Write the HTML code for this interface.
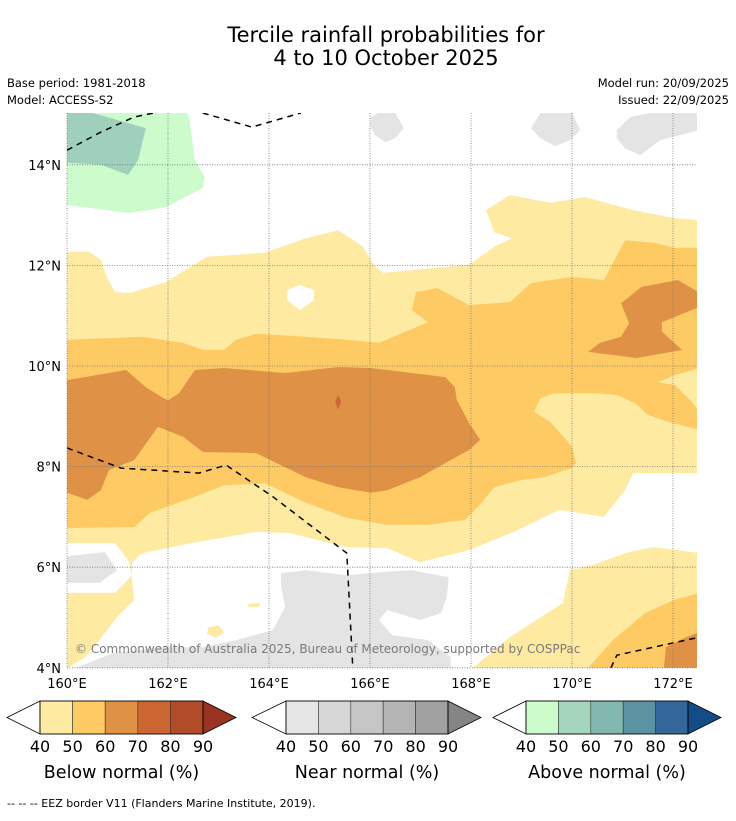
<!DOCTYPE html>
<html><head><meta charset="utf-8">
<style>
html,body{margin:0;padding:0;background:#fff;}
body{width:736px;height:816px;position:relative;overflow:hidden;font-family:"Liberation Sans","DejaVu Sans",sans-serif;color:#000;}
svg text{font-family:"DejaVu Sans","Liberation Sans",sans-serif;}
</style></head>
<body>
<svg id="root" width="736" height="816" viewBox="0 0 736 816">
  <text x="386" y="42" font-size="21" text-anchor="middle">Tercile rainfall probabilities for</text>
  <text x="386" y="65" font-size="21" text-anchor="middle">4 to 10 October 2025</text>
  <text x="7" y="87" font-size="11.5">Base period: 1981-2018</text>
  <text x="7" y="104" font-size="11.5">Model: ACCESS-S2</text>
  <text x="729" y="87" font-size="11.5" text-anchor="end">Model run: 20/09/2025</text>
  <text x="729" y="104" font-size="11.5" text-anchor="end">Issued: 22/09/2025</text>
  <defs><clipPath id="mapclip"><rect x="67" y="113" width="630" height="555"/></clipPath></defs>
  <g id="map" clip-path="url(#mapclip)"></g>
  <g id="grid"></g>
  <g id="axes"></g>
  <text x="75" y="653" font-size="12" fill="#7a7a7a">© Commonwealth of Australia 2025, Bureau of Meteorology, supported by COSPPac</text>
  <g id="cbars"></g>
  <text x="7" y="807" font-size="11">--  --  -- EEZ border V11 (Flanders Marine Institute, 2019).</text>
</svg>
<script>
// ---- axis data ----
const lonTicks = [160,162,164,166,168,170,172];
const latTicks = [4,6,8,10,12,14];
const cbTicks = [40,50,60,70,80,90];
const belowColors = ["#feeaa0","#fdca64","#df9245","#cc6633","#b24c28"];
const nearColors = ["#e6e6e6","#d7d7d7","#c6c6c6","#b4b4b4","#a1a1a1"];
const aboveColors = ["#ccfccc","#a4d6bd","#83b8b0","#5b93a2","#336699"];
const cbTitles = ["Below normal (%)","Near normal (%)","Above normal (%)"];

// ---- contour regions (lon, lat) ----
const green40 = [[160,15.03],[162.38,15.03],[162.42,14.95],[162.53,14.10],[162.73,13.74],[162.69,13.54],[161.96,13.16],[161.25,13.04],[160,13.20]];
const green50 = [[160,15.03],[160.51,15.03],[161.56,14.73],[161.41,14.10],[161.21,13.80],[160.67,14.00],[160,14.04]];
const grey1 = [[166.02,14.95],[166.16,15.03],[166.50,15.03],[166.67,14.73],[166.50,14.53],[166.30,14.45],[166.10,14.59],[166.00,14.79]];
const grey2 = [[169.19,14.73],[169.37,15.03],[170.0,15.03],[170.16,14.69],[169.96,14.49],[169.66,14.37],[169.37,14.53]];
const grey3 = [[170.89,14.69],[171.15,14.95],[171.54,15.03],[172.5,15.03],[172.5,14.69],[172.14,14.59],[171.74,14.49],[171.35,14.19],[171.05,14.33],[170.89,14.53]];
const below40 = [[160,12.27],[160.44,12.27],[160.67,12.11],[160.79,11.77],[160.95,11.47],[161.25,11.45],[161.96,11.67],[162.77,12.17],[163.92,12.25],[164.73,12.54],[165.37,12.70],[165.86,12.37],[166.10,11.97],[166.26,11.85],[167.96,12.01],[168.46,12.37],[168.81,12.54],[168.46,12.66],[168.30,13.10],[168.77,13.40],[169.58,13.24],[170.24,13.36],[171.21,13.10],[172.02,12.94],[172.53,12.90],[172.53,7.87],[171.21,7.87],[171.05,7.53],[170.63,7.00],[169.74,7.14],[168.93,6.74],[167.96,6.34],[166.99,6.10],[166.34,6.38],[165.54,6.40],[164.40,6.68],[163.74,6.70],[162.46,6.48],[161.49,6.28],[161.29,6.10],[161.29,5.75],[161.33,5.35],[160.99,5.01],[160.75,4.69],[160.36,4.21],[160.02,4.00],[160,4.00]];
const holeWhite = [[164.36,11.51],[164.61,11.61],[164.89,11.51],[164.89,11.31],[164.61,11.11],[164.36,11.31]];
const leftWhite = [[160,6.48],[160.95,6.48],[161.21,6.14],[161.29,5.84],[160.95,5.49],[160,5.49]];
const leftGrey = [[160,6.22],[160.75,6.30],[160.99,5.94],[160.65,5.69],[160,5.69]];
const below40SE = [[168.04,4],[168.77,4.61],[169.82,5.29],[169.96,5.94],[170.40,6.04],[171.05,6.28],[171.62,6.40],[172.53,6.28],[172.53,4]];
const below40b1 = [[163.58,5.27],[163.82,5.29],[163.80,5.21],[163.60,5.21]];
const below40b2 = [[162.80,4.80],[163.0,4.85],[163.11,4.70],[162.95,4.60],[162.77,4.68]];
const below50 = [[160,10.52],[161.49,10.58],[162.30,10.46],[162.69,10.32],[163.11,10.32],[163.35,10.52],[163.74,10.64],[164.73,10.58],[165.54,10.52],[166.18,10.46],[167.15,10.87],[166.83,11.11],[166.91,11.47],[167.33,11.55],[167.96,11.21],[168.77,11.27],[169.19,11.65],[170.0,11.77],[170.63,11.71],[171.05,12.50],[171.62,12.45],[172.02,12.35],[172.53,12.35],[172.53,8.73],[171.90,8.89],[171.50,9.03],[171.25,9.26],[170.91,9.42],[170.51,9.46],[169.64,9.46],[169.37,9.36],[169.25,9.09],[169.56,8.89],[169.84,8.59],[170.0,8.39],[170.08,8.07],[169.98,7.97],[169.45,7.79],[168.97,7.73],[168.46,7.59],[168.14,7.20],[167.88,6.94],[167.15,6.84],[166.34,6.84],[165.54,6.98],[164.73,7.28],[163.92,7.67],[163.11,7.63],[162.53,7.40],[161.64,7.08],[161.33,6.80],[160,6.78]];
const below40pocket = [[171.70,9.68],[172.04,9.82],[172.53,9.96],[172.53,9.09],[172.34,9.32],[172.04,9.62]];
const below60 = [[160,9.72],[161.17,9.92],[161.56,9.58],[161.88,9.38],[162.0,9.32],[162.22,9.46],[162.53,9.92],[163.11,9.96],[164.32,9.86],[165.37,9.98],[166.02,9.96],[167.49,9.78],[167.68,9.58],[167.72,9.32],[167.96,8.87],[168.18,8.53],[167.96,8.33],[167.49,8.07],[166.99,7.79],[166.34,7.53],[166.02,7.48],[165.37,7.59],[164.73,7.79],[163.74,8.27],[162.69,8.29],[162.30,8.59],[161.80,8.79],[161.33,8.13],[160.83,7.93],[160.67,7.53],[160.40,7.34],[160,7.48]];
const below60E = [[171.05,11.31],[171.37,11.57],[172.10,11.71],[172.53,11.45],[172.51,11.17],[171.78,10.87],[171.78,10.68],[172.18,10.32],[171.29,10.16],[170.32,10.28],[170.55,10.46],[170.97,10.58],[171.13,10.85],[170.97,11.25]];
const below50SE = [[170.32,4],[170.81,4.55],[171.45,5.09],[172.02,5.35],[172.53,5.49],[172.53,4]];
const below60SE = [[171.82,4],[171.86,4.41],[172.26,4.61],[172.53,4.71],[172.53,4]];
const greyS = [[164.24,5.88],[164.73,5.94],[165.54,5.84],[166.18,5.90],[166.83,5.94],[167.56,5.80],[167.52,5.41],[167.41,5.09],[166.99,4.95],[166.34,5.15],[166.18,4.95],[166.44,4.65],[167.15,4.55],[167.60,4.21],[167.60,4],[160.18,4],[160.91,4.29],[161.88,4.41],[162.69,4.41],[163.35,4.55],[164.08,4.75],[164.32,5.21],[164.24,5.61]];
const below70spot = [[165.37,9.42],[165.43,9.30],[165.37,9.13],[165.31,9.30]];
// EEZ borders
const eez1 = [[160,14.29],[160.67,14.65],[161.33,14.95],[161.72,15.03]];
const eez2 = [[162.69,15.03],[163.66,14.75],[164.63,15.03]];
const eez3 = [[160,8.37],[161.07,7.97],[162.61,7.87],[163.15,8.03],[164.08,7.40],[165.54,6.28],[165.66,4]];
const eez4 = [[170.77,4],[170.89,4.25],[172.53,4.61]];

// ---- axis functions ----
const X = lon => 67 + (lon - 160) * 50.5;
const Y = lat => 366 - (lat - 10) * 50.3;
const NS = "http://www.w3.org/2000/svg";
function mk(tag, attrs, parent){ const e=document.createElementNS(NS,tag); for(const k in attrs) e.setAttribute(k,attrs[k]); parent.appendChild(e); return e; }
const pts = arr => arr.map(p => X(p[0]).toFixed(1)+","+Y(p[1]).toFixed(1)).join(" ");

const map = document.getElementById("map");
const layers = [
  [green40,"#ccfccc","above-40-region"],[green50,"#9fd0bb","above-50-region"],
  [grey1,"#e4e4e4","near-40-region"],[grey2,"#e4e4e4","near-40-region"],[grey3,"#e4e4e4","near-40-region"],
  [below40,"#feeaa0","below-40-region"],[holeWhite,"#ffffff","no-signal-area"],
  [leftWhite,"#ffffff","no-signal-area"],[leftGrey,"#e4e4e4","near-40-region"],
  [below40SE,"#feeaa0","below-40-region"],[below40b1,"#feeaa0","below-40-region"],[below40b2,"#feeaa0","below-40-region"],
  [below50,"#fdca64","below-50-region"],[below40pocket,"#feeaa0","below-40-region"],
  [below60,"#df9245","below-60-region"],[below60E,"#df9245","below-60-region"],
  [below50SE,"#fdca64","below-50-region"],[below60SE,"#df9245","below-60-region"],
  [greyS,"#e4e4e4","near-40-region"],[below70spot,"#cc6633","below-70-region"]
];
layers.forEach(L => {
  const p = mk("polygon",{points:pts(L[0]),fill:L[1]},map);
  
  
});
[eez1,eez2,eez3,eez4].forEach(line => {
  const p = mk("polyline",{points:pts(line),fill:"none",stroke:"#000","stroke-width":1.5,"stroke-dasharray":"6,5"},map);
  
  
});

// grid + axis labels
const grid = document.getElementById("grid"), axes = document.getElementById("axes");
lonTicks.forEach(t => {
  const l = mk("line",{x1:X(t),x2:X(t),y1:113,y2:668,stroke:"#777","stroke-width":0.8,"stroke-dasharray":"1,1.5"},grid);
  
  
  const tx = mk("text",{x:X(t),y:688,"font-size":13,"text-anchor":"middle"},axes);
  tx.textContent = t + "°E";
  
  
});
latTicks.forEach(t => {
  const l = mk("line",{x1:67,x2:697,y1:Y(t),y2:Y(t),stroke:"#777","stroke-width":0.8,"stroke-dasharray":"1,1.5"},grid);
  
  
  const tx = mk("text",{x:61,y:Y(t)+5,"font-size":13,"text-anchor":"end"},axes);
  tx.textContent = t + "°N";
  
  
});

// colorbars
const cb = document.getElementById("cbars");
const bars = [[7,40,203,236,belowColors,"#993322"],[252,286,448,481,nearColors,"#858585"],[493,526,688,721,aboveColors,"#144d85"]];
bars.forEach((b,i) => {
  const [tipL,x0,x1,tipR,cols,over] = b, y0 = 701, y1 = 734, ym = (y0+y1)/2;
  const g = mk("g",{},cb);
  
  
  mk("polygon",{points:`${x0},${y0} ${tipL},${ym} ${x0},${y1}`,fill:"#fff",stroke:"#000","stroke-width":0.8},g);
  const w = (x1-x0)/cols.length;
  cols.forEach((c,j) => {
    const r = mk("rect",{x:x0+j*w,y:y0,width:w,height:y1-y0,fill:c,stroke:"#333","stroke-width":0.6},g);
    
    
  });
  mk("polygon",{points:`${x1},${y0} ${tipR},${ym} ${x1},${y1}`,fill:over,stroke:"#000","stroke-width":0.8},g);
  mk("rect",{x:x0,y:y0,width:x1-x0,height:y1-y0,fill:"none",stroke:"#000","stroke-width":0.8},g);
  cbTicks.forEach((t,j) => {
    const tx = mk("text",{x:x0+j*w,y:752,"font-size":16,"text-anchor":"middle"},g);
    tx.textContent = t;
    
    
  });
  const tt = mk("text",{x:(x0+x1)/2,y:778,"font-size":17.5,"text-anchor":"middle"},g);
  tt.textContent = cbTitles[i];
  
  
});
</script>
</body></html>
